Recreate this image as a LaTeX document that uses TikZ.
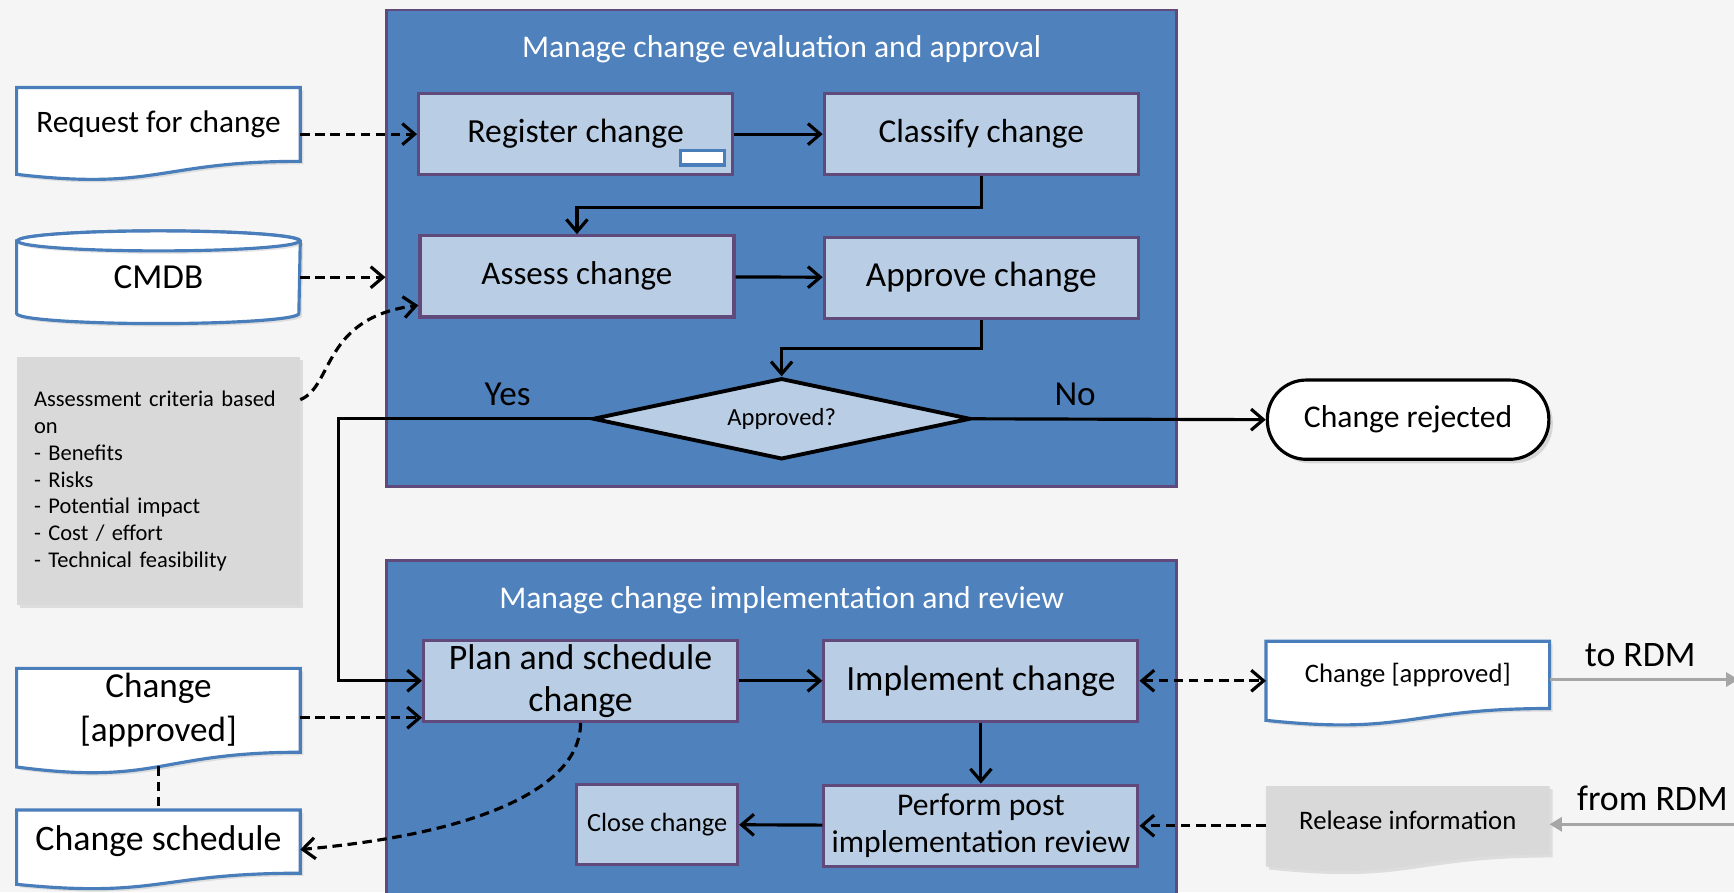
\documentclass[tikz,border=0pt]{standalone}
\usepackage{fontspec}
\setmainfont{Carlito}
\usetikzlibrary{arrows.meta, shapes.geometric, calc, shadows, backgrounds}
\definecolor{bggray}{RGB}{245,245,245}
\definecolor{procblue}{RGB}{79,129,189}
\definecolor{procborder}{RGB}{96,74,123}
\definecolor{stepblue}{RGB}{185,205,229}
\definecolor{docblue}{RGB}{74,126,187}
\definecolor{notegray}{RGB}{217,217,217}
\definecolor{rdmgray}{RGB}{166,166,166}

\newcommand{\fsz}[2]{\fontsize{#1pt}{#2pt}\selectfont}
% wavy document outline behind a node
\newcommand{\docoutline}[2]{%
  \begin{pgfonlayer}{background}
    \draw[#2] let \p1 = ($(#1.north)-(#1.south)$) in
      (#1.north west) -- (#1.north east) -- (#1.south east)
      .. controls (#1.south) and ($(#1.south)+(0pt,-0.4*\y1)$)
      .. ($(#1.south west)+(0pt,-0.176*\y1)$) -- cycle;
  \end{pgfonlayer}}

\begin{document}
\begin{tikzpicture}[x=0.011059cm, y=-0.011059cm]
    % Define styles
    \tikzstyle{container} = [rectangle, draw=procborder, line width=0.75pt,
                             fill=procblue, minimum width=7.9cm, inner sep=0]
    \tikzstyle{phasetitle} = [text=white, font=\fsz{9}{10.8}]
    \tikzstyle{stepbox} = [rectangle, draw=procborder, line width=0.9pt,
                           fill=stepblue, minimum width=3.141cm,
                           minimum height=0.813cm, inner sep=0, align=center]
    \tikzstyle{closebox} = [stepbox, minimum width=1.61cm, minimum height=0.807cm]
    \tikzstyle{decision} = [diamond, draw, line width=1.1pt, fill=stepblue,
                            shape aspect=4.66, minimum width=3.779cm,
                            minimum height=0.811cm, inner sep=0, font=\fsz{7}{8.4}]
    \tikzstyle{terminal} = [rectangle, rounded corners=0.39cm, draw, line width=0.9pt,
                            fill=white, minimum width=2.816cm, minimum height=0.793cm,
                            drop shadow={opacity=0.25, shadow xshift=0.04cm, shadow yshift=-0.04cm},
                            font=\fsz{9}{10.8}]
    \tikzstyle{docnode} = [rectangle, minimum width=2.823cm, inner sep=0, align=center]
    \tikzstyle{docline} = [draw=docblue, line width=0.9pt, fill=white,
                           drop shadow={opacity=0.2, shadow xshift=0.03cm, shadow yshift=-0.03cm}]
    \tikzstyle{grayfill} = [draw=none, fill=notegray,
                            drop shadow={opacity=0.2, shadow xshift=0.03cm, shadow yshift=-0.03cm}]
    \tikzstyle{critbox} = [rectangle, fill=notegray, minimum width=2.823cm,
                           minimum height=2.477cm, text width=2.49cm, inner sep=0.165cm,
                           align=left, font=\fsz{6.4}{7.6},
                           drop shadow={opacity=0.2, shadow xshift=0.03cm, shadow yshift=-0.03cm}]
    \tikzstyle{notemark} = [rectangle, fill=white, draw=docblue, line width=0.9pt,
                            minimum width=0.435cm, minimum height=0.15cm, inner sep=0,
                            drop shadow={opacity=0.2, shadow xshift=0.02cm, shadow yshift=-0.02cm}]
    \tikzstyle{lbl} = [text=black, font=\fsz{10}{12}]
    \tikzstyle{arrow} = [line width=0.9pt, -{Straight Barb[length=3.5pt, width=6pt]}]
    \tikzstyle{dasharrow} = [arrow, dash pattern=on 2.7pt off 1.6pt]
    \tikzstyle{dashboth} = [dasharrow, {Straight Barb[length=3.5pt, width=6pt]}-{Straight Barb[length=3.5pt, width=6pt]}]
    \tikzstyle{dashline} = [line width=0.9pt, dash pattern=on 2.7pt off 1.6pt]
    \tikzstyle{rdmarrow} = [rdmgray, line width=0.8pt, -{Triangle[length=3.5pt, width=4pt]}]

    \useasboundingbox (0,0) rectangle (1568,807);
    \begin{pgfonlayer}{background}
      \fill[bggray] (0,0) rectangle (1568,807);
    \end{pgfonlayer}

    % Create phases
    \node[container, minimum height=4.766cm] (evalbox) at (706.8,224.5) {};
    \node[container, minimum height=3.633cm] (implbox) at (706.8,670.8) {};
    \node[phasetitle] (evaltitle) at (706.8,44.5) {Manage change evaluation and approval};
    \node[phasetitle] (impltitle) at (706.8,542.5) {Manage change implementation and review};

    % Create blocks
    \node[stepbox, font=\fsz{9.6}{11.5}] (register) at (520.5,121.3) {Register change};
    \node[notemark] (regnote) at (635.2,142.5) {};
    \node[stepbox, font=\fsz{9.5}{11.4}] (classify) at (887.3,121.3) {Classify change};
    \node[stepbox, font=\fsz{9.4}{11.3}] (assess) at (521.7,249.9) {Assess change};
    \node[stepbox, font=\fsz{10}{12}] (approve) at (887.3,251.2) {Approve change};
    \node[decision] (approved) at (706.8,378.7) {Approved?};
    \node[terminal] (rejected) at (1273.3,379.5) {Change rejected};

    \node[stepbox, font=\fsz{10.2}{11.9}] (plan) at (525,615.6) {Plan and schedule\\change};
    \node[stepbox, font=\fsz{10.1}{12}] (implement) at (887,615.6) {Implement change};
    \node[stepbox, font=\fsz{9}{10.4}] (perform) at (887,746.7) {Perform post\\implementation review};
    \node[closebox, font=\fsz{7.5}{9}] (close) at (594.2,745.5) {Close change};

    % Create documents
    \node[docnode, minimum height=0.725cm, font=\fsz{8.9}{10.7}] (rfc) at (143.3,112.5) {Request for change};
    \node[docnode, minimum height=0.713cm, font=\fsz{10}{12}] (cmdb) at (143.3,250.7) {CMDB};
    \node[critbox] (crit) at (143.3,435) {Assessment criteria based\\on\\- Benefits\\- Risks\\- Potential impact\\- Cost / effort\\- Technical feasibility};
    \node[docnode, minimum height=0.825cm, font=\fsz{10}{12.7}] (changeappL) at (143.3,642.3) {Change\\{[approved]}};
    \node[docnode, minimum height=0.619cm, font=\fsz{10.2}{12}] (schedule) at (143.3,761) {Change schedule};
    \node[docnode, minimum height=0.658cm, font=\fsz{7.6}{9}] (changeappR) at (1273,610.3) {Change [approved]};
    \node[docnode, minimum height=0.669cm, font=\fsz{7.6}{9}] (release) at (1273,741.8) {Release information};

    \docoutline{rfc}{docline}
    \docoutline{changeappL}{docline}
    \docoutline{schedule}{docline}
    \docoutline{changeappR}{docline}
    \docoutline{release}{grayfill}
    \begin{pgfonlayer}{background}
      \draw[docline] (cmdb.north west) -- (cmdb.south west)
        arc[start angle=180, end angle=360, x radius=1.4115cm, y radius=0.1cm]
        -- (cmdb.north east)
        arc[start angle=0, end angle=180, x radius=1.4115cm, y radius=0.1cm] -- cycle;
      \draw[docline] (cmdb.north) ellipse [x radius=1.4115cm, y radius=0.1cm];
    \end{pgfonlayer}

    \coordinate (planin) at ([yshift=1.5pt]plan.south west);
    \coordinate (rdmout) at (1572,614.5);
    \coordinate (rdmin) at (1580,745.4);

    % Draw arrows
    \draw[dasharrow] (rfc.east |- register.west) -- (register.west);
    \draw[dasharrow] (cmdb.east) -- (cmdb.east -| evalbox.west);
    \draw[dasharrow] ($(crit.north east)+(0,39)$) .. controls +(30,-12) and +(-87,11) .. ($(assess.south west)+(0,-12)$);
    \draw[arrow] (register) -- (classify);
    \draw[arrow] (classify.south) -- ++(0,28) -| (assess.north);
    \draw[arrow] (assess) -- (approve);
    \draw[arrow] (approve.south) -- ++(0,26) -| (approved.north);
    \draw[arrow] (approved.east) -- node[lbl, pos=0.35, above] {No} (rejected.west);
    \draw[arrow] (approved.west) -- node[lbl, pos=0.33, above] {Yes} ++(-228,0) |- (plan.west);

    \draw[dasharrow] (changeappL.east |- planin) -- (planin);
    \draw[dashline] ([yshift=-0.142cm]changeappL.south) -- (schedule.north);
    \draw[dasharrow] (plan.south) .. controls +(0,53) and +(177,-16) .. ([yshift=-0.08cm]schedule.east);
    \draw[arrow] (plan) -- (implement);
    \draw[dashboth] (implement.east) -- (implement.east -| changeappR.west);
    \draw[arrow] (implement) -- (perform);
    \draw[arrow] (perform) -- (close);
    \draw[dasharrow] (perform.east -| release.west) -- (perform.east);

    \draw[rdmarrow] (changeappR.east |- rdmout) -- node[lbl, font=\fsz{10.2}{12}, pos=0.48, above] {to RDM} (rdmout);
    \draw[rdmarrow] (rdmin) -- node[lbl, font=\fsz{10.2}{12}, pos=0.48, above] {from RDM} (release.east |- rdmin);
\end{tikzpicture}
\end{document}
